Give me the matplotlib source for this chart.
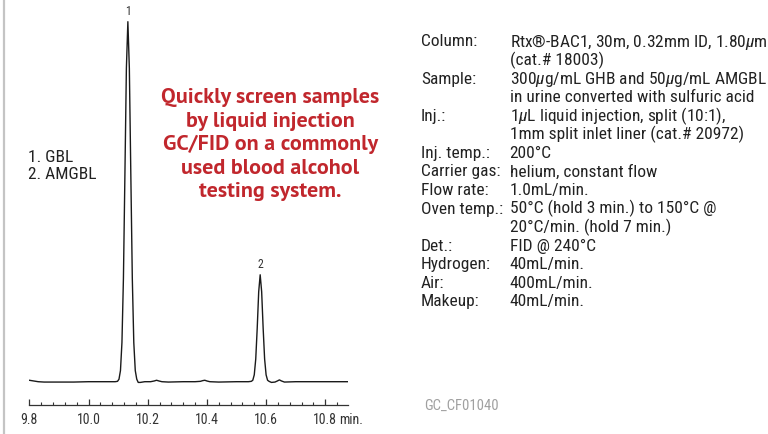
import matplotlib
matplotlib.use("Agg")
import matplotlib.pyplot as plt
from matplotlib import font_manager as fm
from matplotlib.lines import Line2D
from matplotlib.ticker import MultipleLocator, FixedLocator

# ---------------- data ----------------
# chromatogram trace (time in min, signal with peak 1 = 100)
times = [9.800, 9.815, 9.830, 9.850, 9.900, 9.950, 10.000, 10.040, 10.070, 10.090,
         10.098, 10.103, 10.108, 10.113, 10.118, 10.123, 10.128, 10.133, 10.138,
         10.143, 10.148, 10.153, 10.158, 10.163, 10.168, 10.175, 10.190, 10.210,
         10.222, 10.230, 10.238, 10.248, 10.270, 10.320, 10.360, 10.378, 10.386,
         10.393, 10.400, 10.410, 10.440, 10.500, 10.540, 10.550, 10.555, 10.560,
         10.565, 10.570, 10.575, 10.580, 10.585, 10.590, 10.595, 10.600, 10.605,
         10.610, 10.618, 10.630, 10.638, 10.645, 10.652, 10.662, 10.700, 10.750,
         10.800, 10.850, 10.878]
signal = [0.4, 0.2, 0.0, -0.1, -0.1, -0.1, 0.0, 0.0, 0.0, 0.0,
          0.1, 0.7, 3.1, 10.9, 28.7, 57.5, 87.1, 100.0, 87.1,
          57.5, 28.7, 10.9, 3.1, 0.7, -0.2, -0.2, 0.0, 0.0,
          0.2, 0.4, 0.2, 0.0, -0.1, 0.0, 0.0, 0.1, 0.3,
          0.4, 0.2, 0.0, -0.1, 0.0, 0.0, 0.1, 0.4, 1.9,
          6.3, 14.9, 25.0, 29.7, 25.0, 14.9, 6.3, 1.9, 0.4,
          0.1, -0.2, -0.1, 0.2, 0.5, 0.2, -0.1, 0.0, 0.0,
          0.0, 0.0, 0.0]
peak_ids = ["1", "2"]
peak_times = [10.133, 10.580]
peak_heights = [100.0, 29.7]
compounds = ["1. GBL", "2. AMGBL"]
x_ticks = [9.8, 10.0, 10.2, 10.4, 10.6, 10.8]
x_tick_labels = ["9.8", "10.0", "10.2", "10.4", "10.6", "10.8"]
x_unit = "min."
headline = ["Quickly screen samples", "by liquid injection",
            "GC/FID on a commonly", "used blood alcohol", "testing system."]
cond_labels = ["Column:", "", "Sample:", "", "Inj.:", "", "Inj. temp.:",
               "Carrier gas:", "Flow rate:", "Oven temp.:", "", "Det.:",
               "Hydrogen:", "Air:", "Makeup:"]
cond_values = ["Rtx\u00ae-BAC1, 30m, 0.32mm ID, 1.80$\\mu$m",
               "(cat.# 18003)",
               "300$\\mu$g/mL GHB and 50$\\mu$g/mL AMGBL",
               "in urine converted with sulfuric acid",
               "1$\\mu$L liquid injection, split (10:1),",
               "1mm split inlet liner (cat.# 20972)",
               "200\u00b0C",
               "helium, constant flow",
               "1.0mL/min.",
               "50\u00b0C (hold 3 min.) to 150\u00b0C @",
               "20\u00b0C/min. (hold 7 min.)",
               "FID @ 240\u00b0C",
               "40mL/min.",
               "400mL/min.",
               "40mL/min."]
chart_id = "GC_CF01040"

# ---------------- fonts ----------------
names = {f.name for f in fm.fontManager.ttflist}


def first_font(prefs):
    for p in prefs:
        if p in names:
            return p
    return "DejaVu Sans"


def first_static_bold(prefs):
    for p in prefs:
        for f in fm.fontManager.ttflist:
            if (f.name == p and "[" not in f.fname and f.style == "normal"
                    and f.weight in (700, "bold")):
                return f.fname
    return None


NARROW_NAME = first_font(["Roboto Condensed", "Liberation Sans Narrow", "Arial Narrow",
                          "PT Sans Narrow", "Archivo Narrow", "Fira Sans Condensed",
                          "IBM Plex Sans Condensed", "Asap Condensed", "Barlow Semi Condensed"])
NARROW = [NARROW_NAME, "DejaVu Sans"]
bold_file = first_static_bold(["Myriad Pro", "Source Sans Pro", "PT Sans", "Lato",
                               "Open Sans", "Noto Sans", "Liberation Sans"])
if bold_file:
    BOLD_PROPS = dict(fontproperties=fm.FontProperties(fname=bold_file))
else:
    BOLD_PROPS = dict(family="DejaVu Sans", weight="bold")
plt.rcParams["mathtext.fontset"] = "custom"
plt.rcParams["mathtext.it"] = NARROW_NAME + ":italic"
plt.rcParams["mathtext.rm"] = NARROW_NAME
plt.rcParams["mathtext.bf"] = NARROW_NAME + ":bold"

W, H = 768, 434
fig = plt.figure(figsize=(W / 100, H / 100), dpi=100)
fig.patch.set_facecolor("white")
renderer = fig.canvas.get_renderer()


def fx(x):
    return x / W


def fy(y):
    return 1 - y / H


def measure(text, size, **kw):
    t = fig.text(0, 0, text, **kw)
    t.set_fontsize(size)
    w = t.get_window_extent(renderer).width
    t.remove()
    return w


size_cond = 12.0 * 244 / measure("in urine converted with sulfuric acid", 12.0, family=NARROW)
size_id = 12.0 * 74 / measure(chart_id, 12.0, family=NARROW)
size_head = 12.0 * 217.6 / measure(headline[0], 12.0, **BOLD_PROPS)
size_tick = 10.0

# axes placement in pixels
x0, x1 = 29.3, 347.5
y_top, y_axis = 8, 405
ax = fig.add_axes([fx(x0), fy(y_axis), (x1 - x0) / W, (y_axis - y_top) / H])
px_per_unit = 360 / 100.0
base_px = y_axis - 381.7
ax.set_xlim(9.8, 10.875)
ax.set_ylim(-base_px / px_per_unit, (y_axis - y_top - base_px) / px_per_unit)

ax.plot(times, signal, color="#1a1a1a", lw=1.0, solid_joinstyle="round")

for s in ["top", "right", "left"]:
    ax.spines[s].set_visible(False)
ax.spines["bottom"].set_color("#333333")
ax.spines["bottom"].set_linewidth(0.9)
ax.set_yticks([])
ax.xaxis.set_major_locator(FixedLocator(x_ticks))
ax.set_xticklabels(x_tick_labels, family=NARROW)
ax.xaxis.set_minor_locator(MultipleLocator(0.04))
ax.tick_params(axis="x", which="major", direction="in", length=4, width=0.9,
               color="#333333", labelsize=size_tick, labelcolor="#333333", pad=5.5)
ax.tick_params(axis="x", which="minor", direction="in", length=2.2, width=0.8,
               color="#333333")

for pid, pt, ph in zip(peak_ids, peak_times, peak_heights):
    ax.annotate(pid, (pt, ph), xytext=(0, 3), textcoords="offset points",
                ha="center", va="bottom", fontsize=8.5, family=NARROW,
                color="#333333")

# unit after the last tick label, on the same baseline
fig.canvas.draw()
bb = ax.get_xticklabels()[-1].get_window_extent(renderer)
fig.text((bb.x1 + 1.5) / W, bb.y1 / H, x_unit, ha="left", va="top",
         fontsize=size_tick, family=NARROW, color="#333333")

# left gray rule
fig.add_artist(Line2D([fx(4.2), fx(4.2)], [0, 1], color="#c4c4c4", lw=1.6,
                      transform=fig.transFigure))

# compound legend
for i, c in enumerate(compounds):
    fig.text(fx(28), fy(161.7 + 16.8 * i), c, ha="left", va="baseline",
             fontsize=size_cond, family=NARROW, color="#222222")

# red headline
for i, line in enumerate(headline):
    t = fig.text(fx(270.5), fy(103.3 + 23.5 * i), line, ha="center", va="baseline",
                 color="#c1272d", **BOLD_PROPS)
    t.set_fontsize(size_head)

# conditions block
for i, (lab, val) in enumerate(zip(cond_labels, cond_values)):
    yb = fy(46.5 + 18.57 * i)
    if lab:
        fig.text(fx(421), yb, lab, ha="left", va="baseline",
                 fontsize=size_cond, family=NARROW, color="#222222")
    fig.text(fx(509.5), yb, val, ha="left", va="baseline",
             fontsize=size_cond, family=NARROW, color="#222222")

fig.text(fx(424), fy(410), chart_id, ha="left", va="baseline",
         fontsize=size_id, family=NARROW, color="#a0a0a0")

fig.savefig("out.png", dpi=100, facecolor="white")
